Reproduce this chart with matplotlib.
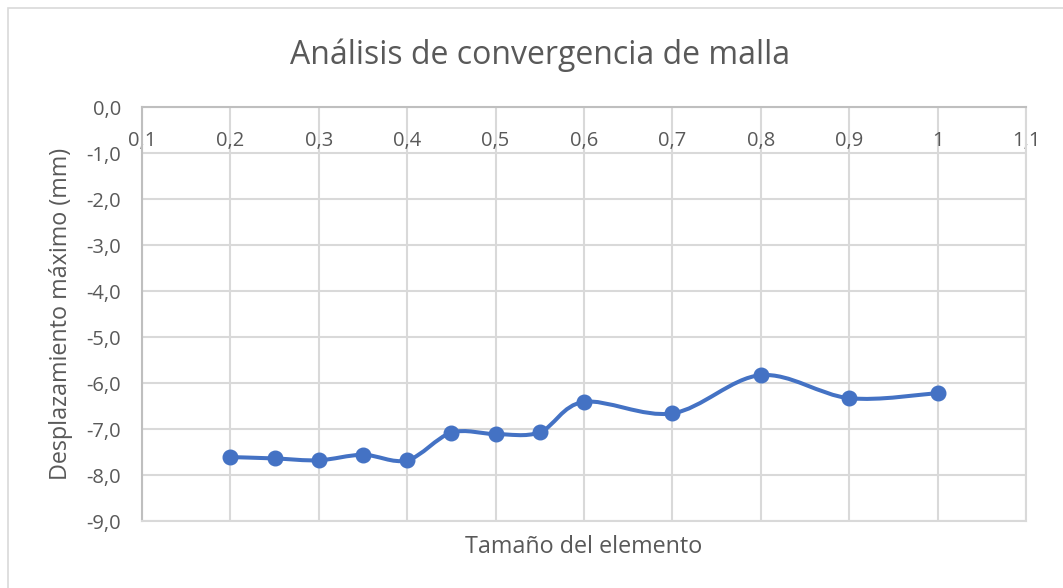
import numpy as np
import matplotlib.pyplot as plt
from matplotlib.path import Path
from matplotlib.patches import PathPatch, Rectangle
from matplotlib.ticker import FuncFormatter, MultipleLocator

# data
tamano = [0.2, 0.25, 0.3, 0.35, 0.4, 0.45, 0.5, 0.55, 0.6, 0.7, 0.8, 0.9, 1.0]
desplazamiento = [-7.61, -7.64, -7.68, -7.56, -7.68, -7.08, -7.11, -7.07,
                  -6.41, -6.66, -5.83, -6.33, -6.22]

titulo = "Análisis de convergencia de malla"
eje_x = "Tamaño del elemento"
eje_y = "Desplazamiento máximo (mm)"

BLUE = "#4472C4"
GRID = "#D9D9D9"
TEXT = "#595959"

plt.rcParams["font.family"] = ["Open Sans", "DejaVu Sans"]


def smooth_path(x, y):
    # Excel-like smoothed line: cubic Bezier segments (Catmull-Rom style handles)
    pts = np.column_stack([x, y])
    n = len(pts)
    verts = [pts[0]]
    codes = [Path.MOVETO]
    for i in range(n - 1):
        p0 = pts[i - 1] if i > 0 else pts[i]
        p1 = pts[i]
        p2 = pts[i + 1]
        p3 = pts[i + 2] if i + 2 < n else pts[i + 1]
        c1 = p1 + (p2 - p0) / 6.0
        c2 = p2 - (p3 - p1) / 6.0
        verts += [c1, c2, p2]
        codes += [Path.CURVE4] * 3
    return Path(verts, codes)


fig = plt.figure(figsize=(10.63, 5.88), dpi=100)
ax = fig.add_axes([142 / 1063, 1 - 521 / 588, (1026 - 142) / 1063, (521 - 107) / 588])

fig.patches.append(Rectangle((8 / 1063, -0.01), 1.02, 1 - 8 / 588 + 0.01,
                             transform=fig.transFigure, fill=False,
                             edgecolor=GRID, linewidth=1.2, zorder=0))

ax.add_patch(PathPatch(smooth_path(tamano, desplazamiento), fill=False,
                       edgecolor=BLUE, linewidth=2.9, zorder=3))
ax.plot(tamano, desplazamiento, linestyle="none", marker="o", markersize=10.5,
        color=BLUE, zorder=4)

ax.set_xlim(0.1, 1.1)
ax.set_ylim(-9, 0)
ax.xaxis.set_major_locator(MultipleLocator(0.1))
ax.yaxis.set_major_locator(MultipleLocator(1))


def fmt_x(v, pos):
    s = "%g" % round(v, 2)
    return s.replace(".", ",")


ax.xaxis.set_major_formatter(FuncFormatter(fmt_x))
ax.yaxis.set_major_formatter(FuncFormatter(lambda v, p: ("%.1f" % v).replace(".", ",").replace("-0,0", "0,0")))

ax.grid(True, color=GRID, linewidth=1.5)
ax.set_axisbelow(True)
for side in ["right", "bottom"]:
    ax.spines[side].set_color(GRID)
    ax.spines[side].set_linewidth(1.5)
ax.spines["left"].set_color("#BFBFBF")
ax.spines["left"].set_linewidth(1.5)
ax.spines["top"].set_color("#BFBFBF")
ax.spines["top"].set_linewidth(1.5)

# x labels sit just under the y=0 axis line, as in Excel
ax.xaxis.tick_top()
ax.tick_params(axis="x", length=0, pad=-32, labelsize=14.5, colors=TEXT)
ax.tick_params(axis="y", length=0, pad=15, labelsize=14.5, colors=TEXT)
ax.xaxis.set_label_position("bottom")

fig.text(540 / 1063, 1 - 55 / 588, titulo, fontsize=23, color=TEXT,
         ha="center", va="center")
ax.set_xlabel(eje_x, fontsize=16.8, color=TEXT, labelpad=10)
ax.set_ylabel(eje_y, fontsize=16.8, color=TEXT, labelpad=10)

fig.savefig("out.png", dpi=100)
